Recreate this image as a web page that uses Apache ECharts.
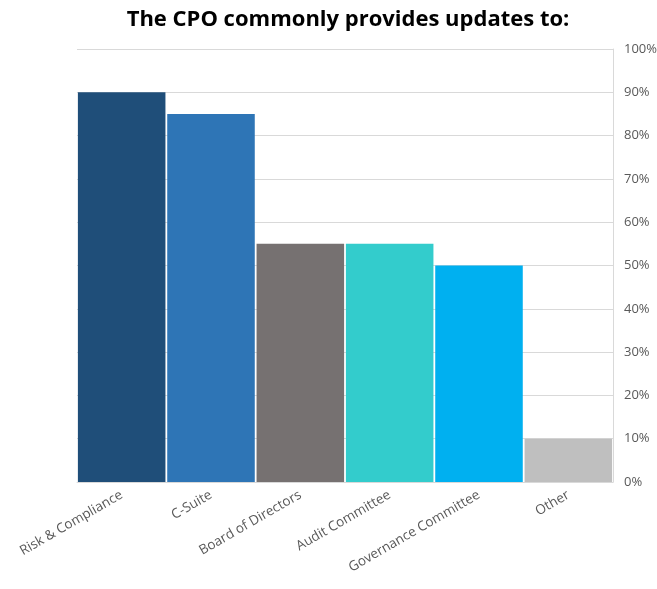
<!DOCTYPE html>
<html>
<head>
<meta charset="utf-8">
<script src="https://cdn.jsdelivr.net/npm/echarts@6/dist/echarts.min.js"></script>
<style>
  html, body { margin: 0; padding: 0; background: #fff; }
  #chart { width: 657px; height: 589px; }
</style>
</head>
<body>
<div id="chart"></div>
<script>
// Audiences the CPO reports to, with share of respondents (%)
const categories = ['Risk & Compliance', 'C-Suite', 'Board of Directors', 'Audit Committee', 'Governance Committee', 'Other'];
const shares = [90, 85, 55, 55, 50, 10];
const barColors = ['#1F4E79', '#2E75B6', '#767171', '#33CCCC', '#00B0F0', '#BFBFBF'];
const titleText = 'The CPO commonly provides updates to:';

const chart = echarts.init(document.getElementById('chart'), null, { renderer: 'canvas' });

chart.setOption({
  animation: false,
  title: {
    text: titleText,
    left: 343,
    textAlign: 'center',
    top: 4,
    textStyle: { fontFamily: 'Open Sans', fontWeight: 'bold', fontSize: 22, color: '#000' }
  },
  grid: { left: 77, right: 44, top: 49, bottom: 107, containLabel: false, outerBoundsMode: 'none' },
  xAxis: {
    type: 'category',
    data: categories,
    axisLine: { show: true, lineStyle: { color: '#D9D9D9' } },
    axisTick: { show: false },
    axisLabel: {
      rotate: 30,
      interval: 0,
      margin: 12,
      color: '#595959',
      fontFamily: 'Open Sans',
      fontSize: 13.5
    }
  },
  yAxis: {
    type: 'value',
    position: 'right',
    min: 0,
    max: 100,
    interval: 10,
    axisLine: { show: true, lineStyle: { color: '#D9D9D9' } },
    axisTick: { show: false },
    splitLine: { lineStyle: { color: '#D9D9D9' } },
    axisLabel: {
      formatter: '{value}%',
      margin: 11,
      color: '#595959',
      fontFamily: 'Open Sans',
      fontSize: 13
    }
  },
  series: [{
    type: 'bar',
    barCategoryGap: '2%',
    data: shares.map((v, i) => ({ value: v, itemStyle: { color: barColors[i] } }))
  }]
});
</script>
</body>
</html>
